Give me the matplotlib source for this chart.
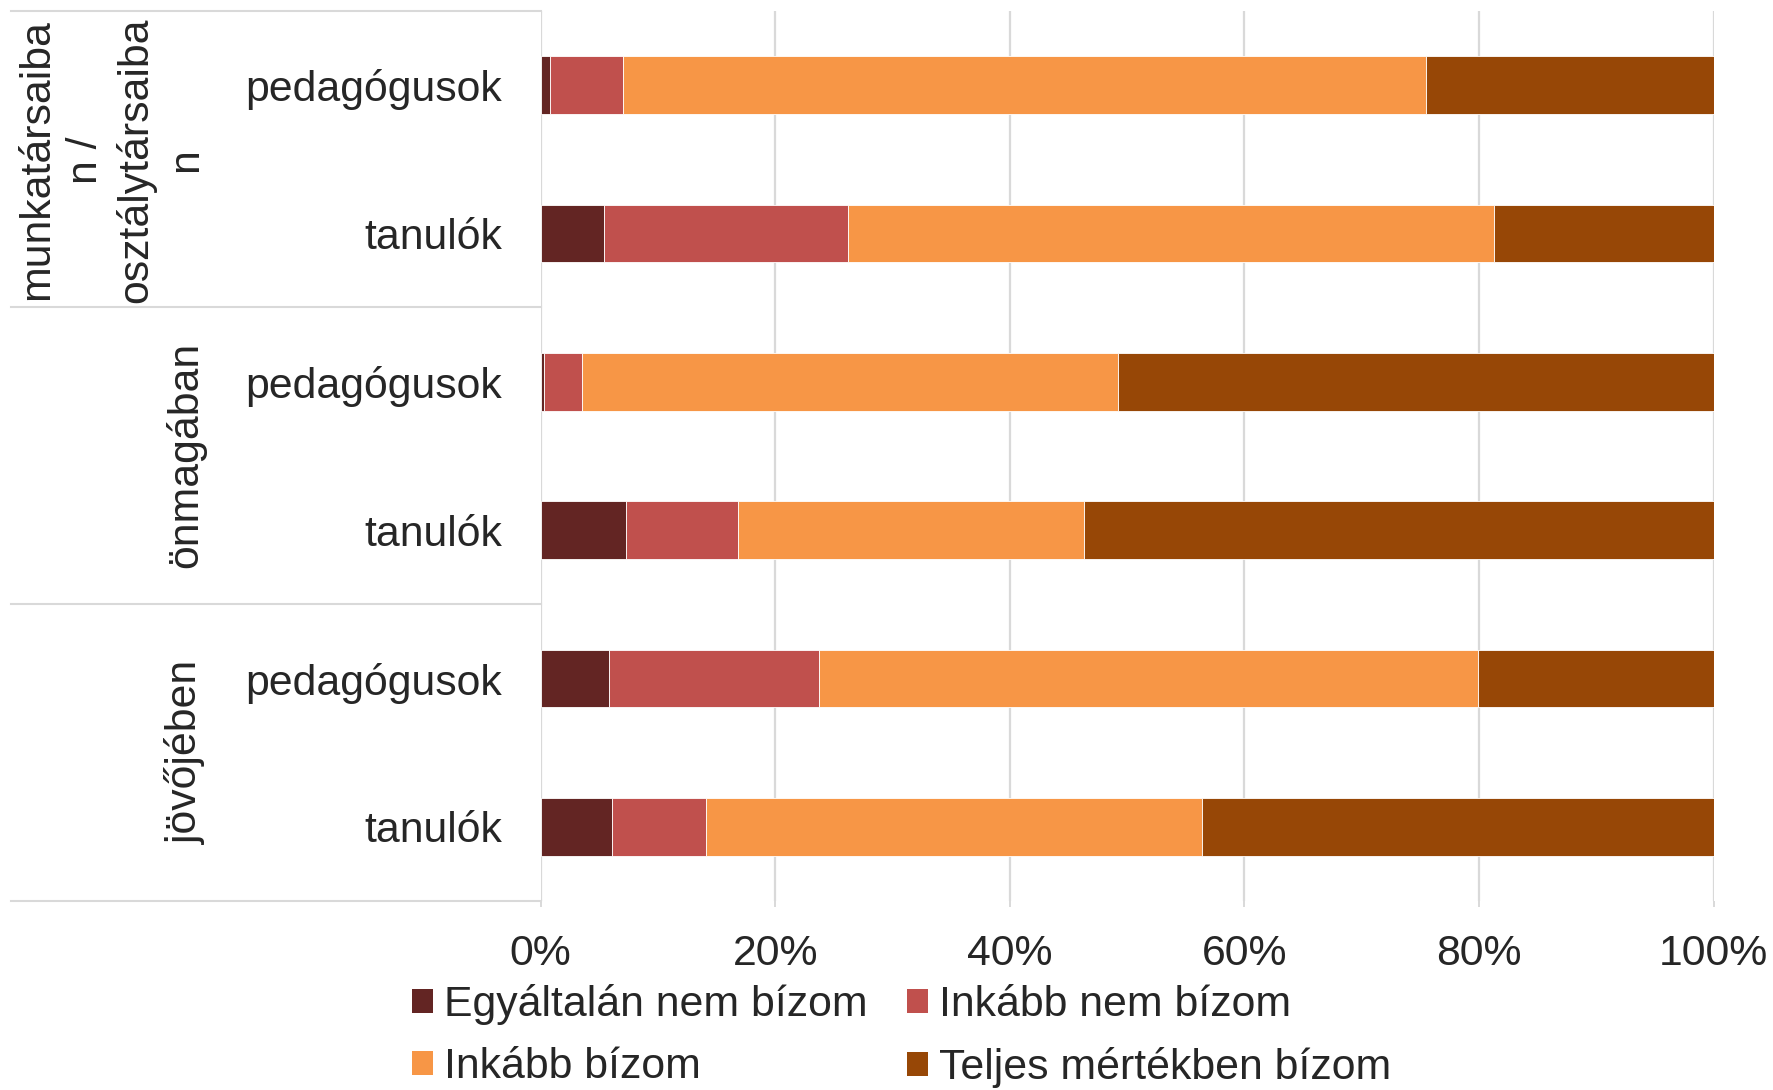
import matplotlib
matplotlib.use("Agg")
import matplotlib.pyplot as plt
import numpy as np
from matplotlib.lines import Line2D
from matplotlib.patches import Patch

plt.rcParams['font.family'] = ['Liberation Sans', 'DejaVu Sans']

# adatok (%), felülről lefelé
groups = ["munkatársaiba\nn /\nosztálytársaiba\nn", "önmagában", "jövőjében"]
rows = ["pedagógusok", "tanulók", "pedagógusok", "tanulók", "pedagógusok", "tanulók"]
series = ["Egyáltalán nem bízom", "Inkább nem bízom", "Inkább bízom", "Teljes mértékben bízom"]
egyaltalan_nem = [0.8, 5.4, 0.3, 7.3, 5.8, 6.1]
inkabb_nem = [6.2, 20.8, 3.25, 9.5, 17.9, 8.0]
inkabb_igen = [68.5, 55.1, 45.65, 29.5, 56.2, 42.3]
teljesen = [24.5, 18.7, 50.8, 53.7, 20.1, 43.6]
xticks = [0, 20, 40, 60, 80, 100]
xtick_labels = ["0%", "20%", "40%", "60%", "80%", "100%"]

colors = ["#632523", "#C0504D", "#F79646", "#974706"]
text_col = "#262626"
grid_col = "#D9D9D9"
fs = 30.8
W, H = 1774, 1090

fig = plt.figure(figsize=(W / 100, H / 100), dpi=100)
ax = fig.add_axes([540.7 / W, 1 - 901 / H, 1173 / W, 890 / H])

y = np.arange(len(rows))
left = np.zeros(len(rows))
handles = []
for vals, c, name in zip([egyaltalan_nem, inkabb_nem, inkabb_igen, teljesen], colors, series):
    ax.barh(y, vals, left=left, height=0.39, color=c, edgecolor="white", linewidth=0.6, zorder=3)
    left += np.array(vals)
    handles.append(Patch(facecolor=c, edgecolor="none", label=name))

ax.set_xlim(0, 100)
ax.set_ylim(len(rows) - 0.5, -0.5)
ax.set_xticks(xticks)
ax.set_xticklabels(xtick_labels, fontsize=fs, color=text_col)
ax.set_yticks(y)
ax.set_yticklabels(rows, fontsize=fs, color=text_col)
ax.tick_params(axis="y", length=0, pad=28)
ax.tick_params(axis="x", length=4, color=grid_col, width=1.4, pad=20)
ax.grid(axis="x", color=grid_col, linewidth=1.6, zorder=0)
for s in ax.spines.values():
    s.set_visible(False)

# kategóriacsoportok elválasztó vonalai
for yy in [11, 307, 604, 901]:
    fig.add_artist(Line2D([11 / W, 541 / W], [1 - yy / H, 1 - yy / H],
                          transform=fig.transFigure, color=grid_col, linewidth=1.5))

group_centers = [160, 455, 752]
for g, yc in zip(groups, group_centers):
    fig.text(206 / W, 1 - yc / H, g, rotation=90, ha="right", va="center",
             multialignment="center", fontsize=fs, color=text_col, linespacing=1.3)

order = [0, 2, 1, 3]
fig.legend([handles[i] for i in order], [series[i] for i in order], ncol=2,
           loc="upper left", bbox_to_anchor=(412 / W, 1 - 984 / H), frameon=False,
           fontsize=fs, handlelength=0.5, handleheight=0.5, handletextpad=0.25,
           columnspacing=0.92, labelspacing=0.52, borderpad=0, borderaxespad=0,
           labelcolor=text_col)

fig.savefig("out.png", dpi=100)
